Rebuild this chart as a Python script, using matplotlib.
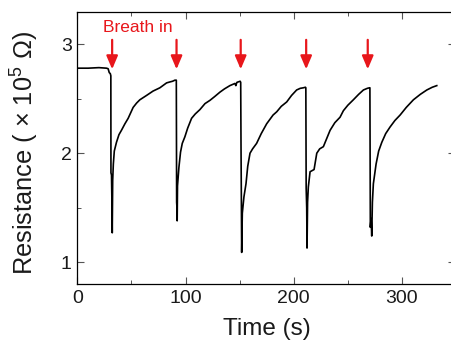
import matplotlib
matplotlib.use("Agg")
import matplotlib.pyplot as plt
from matplotlib.ticker import MultipleLocator

plt.rcParams['font.family'] = ['Liberation Sans', 'DejaVu Sans']
plt.rcParams['mathtext.fontset'] = 'custom'
plt.rcParams['mathtext.rm'] = 'Liberation Sans'
plt.rcParams['mathtext.it'] = 'Liberation Sans'

# traced resistance trace (time in s, resistance in 1e5 ohm)
time_s = [
    0, 10, 20, 27, 28.5, 29.5, 30.5, 31.0, 31.1, 31.6, 32.0, 32.3, 32.7, 33.3,
    34.2, 36.2, 38.5, 40.8, 44, 47, 51.6, 54.8, 57.8, 64, 70, 76.3, 82.5, 86,
    88, 90.2, 91.5,
    91.8, 92.1, 92.3, 92.6, 93.9, 95.4, 97, 99.4, 102, 105.6, 109, 113.3, 118,
    122.6, 127, 131.8, 136, 141, 145.7, 146.5, 147.5, 150.5, 151.0,
    151.3, 151.6, 151.9, 152.5, 154, 155.9, 157.5, 159.6, 162, 165.7, 170, 175,
    180.9, 184.3, 188.5, 193.5, 198, 202.7, 206, 208.9, 210.8, 211.2,
    211.5, 212.0, 212.3, 212.8, 213.5, 215.1, 218.8, 221.3, 224, 227.4, 233.6,
    238, 242.8, 245.9, 250, 255.1, 260, 264.4, 268, 270, 270.4,
    270.8, 271.5, 272.1, 272.7, 273.6, 276.1, 278.5, 281.4, 285, 289, 293.5,
    298.3, 304, 310.6, 317, 323, 328, 332.2,
]
resistance = [
    2.78, 2.78, 2.785, 2.78, 2.775, 2.74, 2.73, 2.71, 1.82, 1.80, 1.55, 1.27,
    1.75, 1.90, 2.02, 2.10, 2.17, 2.21, 2.27, 2.32, 2.42, 2.46, 2.49, 2.53,
    2.57, 2.60, 2.645, 2.655, 2.66, 2.67, 2.67,
    1.55, 1.50, 1.38, 1.70, 1.87, 2.01, 2.09, 2.15, 2.23, 2.32, 2.36, 2.40,
    2.455, 2.485, 2.52, 2.56, 2.59, 2.62, 2.64, 2.62, 2.65, 2.66, 2.65,
    2.05, 1.60, 1.09, 1.45, 1.60, 1.72, 1.88, 2.00, 2.04, 2.09, 2.18, 2.27,
    2.35, 2.38, 2.43, 2.47, 2.53, 2.58, 2.595, 2.60, 2.605, 2.60,
    1.68, 1.50, 1.13, 1.55, 1.69, 1.83, 1.85, 2.00, 2.04, 2.06, 2.21, 2.28,
    2.33, 2.39, 2.44, 2.49, 2.54, 2.58, 2.595, 2.60, 2.60,
    1.32, 1.40, 1.24, 1.55, 1.72, 1.90, 2.02, 2.10, 2.18, 2.24, 2.30, 2.35,
    2.42, 2.49, 2.54, 2.58, 2.605, 2.62,
]

# breath-in arrow positions
breath_times = [32.2, 91.7, 151.0, 211.5, 268.4]
arrow_top = 3.04
arrow_tip = 2.77

fig = plt.figure(figsize=(4.52, 3.45), dpi=100)
ax = fig.add_axes([77.3 / 452, 61 / 345, (455.5 - 77.3) / 452, (284 - 11.5) / 345])

ax.plot(time_s, resistance, color='black', lw=1.2)

red = '#e8161b'
for t in breath_times:
    ax.annotate('', xy=(t, arrow_tip), xytext=(t, arrow_top),
                arrowprops=dict(arrowstyle='-|>,head_length=0.8,head_width=0.34',
                                color=red, lw=1.6, shrinkA=0, shrinkB=0))
ax.text(23.3, 3.15, 'Breath in', color=red, fontsize=12.5, va='center', ha='left')

ax.set_xlim(0, 349.5)
ax.set_ylim(0.8, 3.3)
ax.xaxis.set_major_locator(MultipleLocator(100))
ax.xaxis.set_minor_locator(MultipleLocator(50))
ax.yaxis.set_major_locator(MultipleLocator(1))
ax.yaxis.set_minor_locator(MultipleLocator(0.5))

for s in ax.spines.values():
    s.set_linewidth(0.9)
ax.tick_params(which='both', direction='in', top=True, right=True,
               color='#555555', labelsize=14, labelcolor='#1a1a1a')
ax.tick_params(which='major', length=5, width=0.8, pad=4)
ax.tick_params(which='minor', length=3, width=0.7)

ax.set_xlabel('Time (s)', fontsize=17.5, color='#1a1a1a', labelpad=8)
ax.set_ylabel('Resistance ( × 10$^5$ Ω)', fontsize=18.3, color='#1a1a1a', labelpad=14)
ax.yaxis.label.set_y(0.48)

fig.savefig('out.png', dpi=100)
